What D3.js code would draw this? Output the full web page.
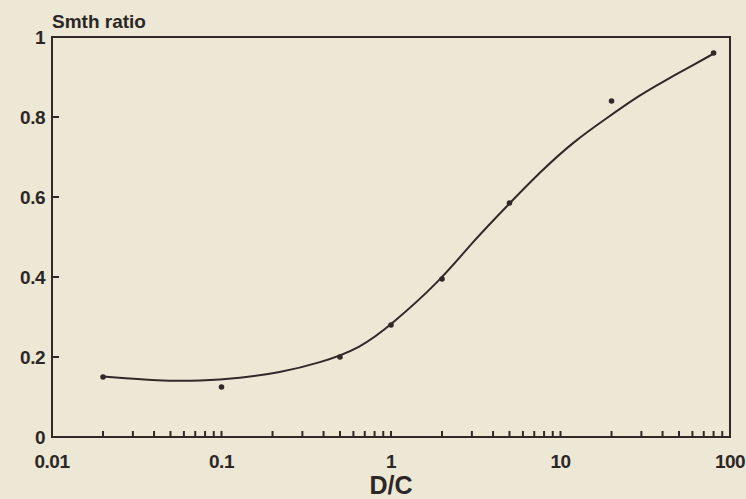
<!DOCTYPE html>
<html>
<head>
<meta charset="utf-8">
<script src="https://cdn.jsdelivr.net/npm/d3@7"></script>
<style>
  html, body { margin: 0; padding: 0; background: #ece8d5; }
  text { font-family: "Liberation Sans", Arial, sans-serif; font-weight: bold; fill: #2c2724; }
</style>
</head>
<body>
<div id="chart"></div>
<script>
// measured points (D/C, smooth ratio)
var pointX = [0.02, 0.1, 0.5, 1, 2, 5, 20, 80];
var pointY = [0.15, 0.125, 0.2, 0.28, 0.395, 0.585, 0.84, 0.96];

// fitted curve
var curveX = [0.02, 0.043, 0.075, 0.128, 0.22, 0.38, 0.66, 1.0, 1.95, 3.06, 4.9, 7.6, 11.9, 18.7, 29.4, 38.6, 60.5, 79];
var curveY = [0.151, 0.14, 0.14, 0.147, 0.161, 0.185, 0.222, 0.28, 0.39, 0.49, 0.58, 0.663, 0.738, 0.797, 0.855, 0.884, 0.93, 0.957];

var xTickLabels = ["0.01", "0.1", "1", "10", "100"];
var yTickLabels = ["0", "0.2", "0.4", "0.6", "0.8", "1"];

var margin = {top: 37, right: 16, bottom: 62, left: 52},
    width = 746 - margin.left - margin.right,
    height = 499 - margin.top - margin.bottom;

var ink = "#2f2a27";

var svg = d3.select("#chart")
  .append("svg")
    .attr("width", 746)
    .attr("height", 499)
  .append("g")
    .attr("transform", "translate(" + margin.left + "," + margin.top + ")");

var x = d3.scaleLog()
  .domain([0.01, 100])
  .range([0, width]);

var y = d3.scaleLinear()
  .domain([0, 1])
  .range([height, 0]);

// frame
svg.append("rect")
  .attr("x", 0)
  .attr("y", 0)
  .attr("width", width)
  .attr("height", height)
  .attr("fill", "none")
  .attr("stroke", ink)
  .attr("stroke-width", 2);

// x ticks: inside, pointing up
var xTicks = x.ticks().filter(function(t) { return t > 0.0100001 && t < 99.999; });
svg.selectAll(".xtick")
  .data(xTicks)
  .enter()
  .append("line")
    .attr("x1", function(d) { return x(d); })
    .attr("x2", function(d) { return x(d); })
    .attr("y1", height)
    .attr("y2", height - 6)
    .attr("stroke", ink)
    .attr("stroke-width", 2);

svg.selectAll(".xlabel")
  .data(xTickLabels)
  .enter()
  .append("text")
    .attr("x", function(d) { return x(+d); })
    .attr("y", height + 31)
    .attr("text-anchor", "middle")
    .attr("font-size", 19)
    .attr("letter-spacing", -0.5)
    .text(function(d) { return d; });

// y ticks: inside, pointing right
svg.selectAll(".ytick")
  .data(yTickLabels.slice(1, 5))
  .enter()
  .append("line")
    .attr("x1", 0)
    .attr("x2", 7)
    .attr("y1", function(d) { return y(+d); })
    .attr("y2", function(d) { return y(+d); })
    .attr("stroke", ink)
    .attr("stroke-width", 2);

svg.selectAll(".ylabel")
  .data(yTickLabels)
  .enter()
  .append("text")
    .attr("x", -7)
    .attr("y", function(d) { return y(+d) + 7; })
    .attr("text-anchor", "end")
    .attr("font-size", 19)
    .attr("letter-spacing", -0.5)
    .text(function(d) { return d; });

// titles
svg.append("text")
  .attr("x", 0)
  .attr("y", -9)
  .attr("font-size", 19)
  .text("Smth ratio");

svg.append("text")
  .attr("x", x(1))
  .attr("y", height + 57)
  .attr("text-anchor", "middle")
  .attr("font-size", 25)
  .text("D/C");

// fitted curve
var line = d3.line()
  .curve(d3.curveBasis)
  .x(function(d) { return x(d[0]); })
  .y(function(d) { return y(d[1]); });

svg.append("path")
  .datum(d3.zip(curveX, curveY))
  .attr("fill", "none")
  .attr("stroke", ink)
  .attr("stroke-width", 2)
  .attr("d", line);

// data points
svg.selectAll(".pt")
  .data(d3.zip(pointX, pointY))
  .enter()
  .append("circle")
    .attr("cx", function(d) { return x(d[0]); })
    .attr("cy", function(d) { return y(d[1]); })
    .attr("r", 2.8)
    .attr("fill", ink);
</script>
</body>
</html>
